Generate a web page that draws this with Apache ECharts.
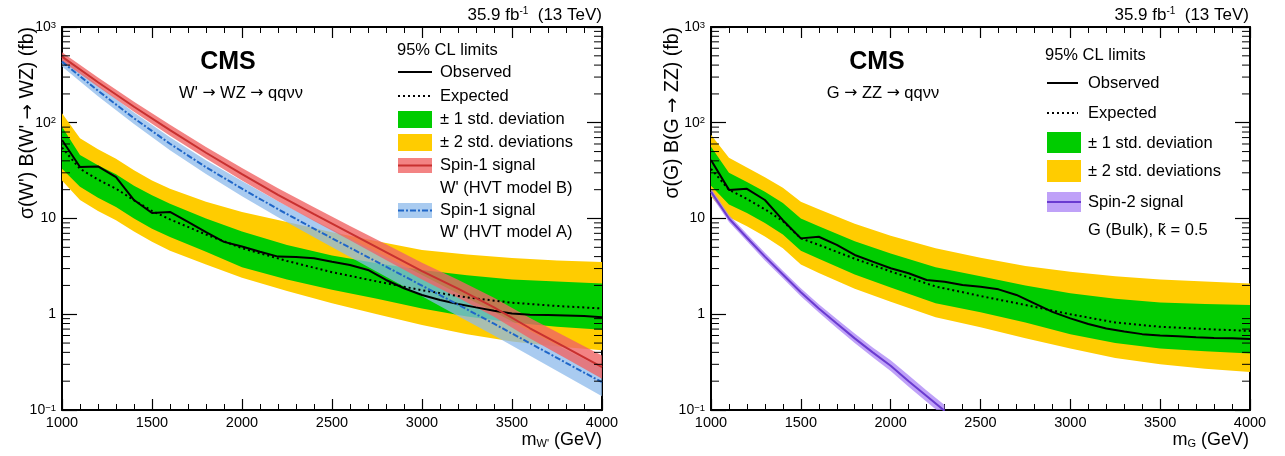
<html>

<head>
    <meta charset="utf-8">
    <title>CMS W' / G limits</title>
    <script src="https://cdn.jsdelivr.net/npm/echarts@6.0.0/dist/echarts.min.js"></script>
    <style>body { margin: 0; background: #fff; }</style>
</head>

<body>
    <div id="main" style="width:1285px;height:456px;"></div>
    <script type="text/javascript">
        // values (fb vs GeV)
        var massObs = [1000, 1100, 1200, 1300, 1400, 1500, 1600, 1700, 1800, 1900, 2000, 2100, 2200, 2300, 2400, 2500,
            2600, 2700, 2800, 2900, 3000, 3100, 3200, 3300, 3400, 3500, 3600, 3700, 3800, 3900, 4000];
        var massBand = [1000, 1100, 1200, 1300, 1400, 1500, 1600, 1800, 2000, 2250, 2500, 2750, 3000, 3250, 3500, 3750, 4000];
        var massSig = [1000, 1200, 1400, 1600, 1800, 2000, 2200, 2400, 2600, 2800, 3000, 3200, 3400, 3600, 3800, 4000];
        var massBulk = [1000, 1100, 1200, 1300, 1400, 1500, 1600, 1700, 1800, 1900, 2000, 2100, 2200, 2300];

        // W' -> WZ
        var wzObserved = [66, 34.5, 35, 27, 15.6, 11.4, 11.7, 9.2, 7.2, 5.7, 5.1, 4.5, 4.0, 3.96, 3.85, 3.54,
            3.27, 2.9, 2.28, 1.87, 1.59, 1.41, 1.28, 1.18, 1.09, 1.02, 0.99, 0.98, 0.97, 0.96, 0.93];
        var wzExpected = [55, 33, 25.5, 20.5, 15.5, 12, 9.8, 6.8, 4.9, 3.6, 2.75, 2.2, 1.78, 1.5, 1.32, 1.22, 1.15];
        var wzPlus2 = [126, 69, 53, 42, 32, 25, 20.5, 15, 11.7, 9.2, 7.2, 5.8, 4.7, 4.2, 3.87, 3.65, 3.52];
        var wzPlus1 = [91, 46, 36, 29, 22, 17.5, 14.3, 10, 7.3, 5.3, 4.1, 3.4, 2.9, 2.55, 2.3, 2.2, 2.1];
        var wzMinus1 = [33, 21.4, 16.5, 13.2, 10, 7.8, 6.4, 4.5, 3.1, 2.3, 1.8, 1.45, 1.15, 0.95, 0.82, 0.74, 0.69];
        var wzMinus2 = [25, 15.6, 12, 9.6, 7.3, 5.7, 4.6, 3.3, 2.4, 1.75, 1.3, 1.0, 0.77, 0.62, 0.52, 0.46, 0.42];
        var hvtB = [490, 265, 147, 83.6, 48.6, 29.0, 17.7, 11.1, 7.03, 4.45, 2.82, 1.85, 1.18, 0.714, 0.448, 0.280];
        var hvtBLow = [441, 237, 130, 73.3, 42.3, 25.0, 15.1, 9.4, 5.91, 3.68, 2.31, 1.49, 0.94, 0.558, 0.345, 0.212];
        var hvtBHigh = [544, 297, 166, 95.3, 55.9, 33.6, 20.7, 13.1, 8.37, 5.38, 3.44, 2.29, 1.49, 0.914, 0.582, 0.37];
        var hvtA = [435, 216, 111.5, 60.4, 34.3, 20.5, 12.5, 7.82, 4.95, 3.14, 1.99, 1.26, 0.796, 0.498, 0.311, 0.195];
        var hvtALow = [386, 189, 97, 51.6, 29.1, 17.1, 10.3, 6.36, 3.96, 2.47, 1.54, 0.96, 0.6, 0.369, 0.227, 0.139];
        var hvtAHigh = [491, 246, 128, 70.7, 40.5, 24.6, 15.1, 9.6, 6.19, 3.99, 2.57, 1.65, 1.06, 0.67, 0.426, 0.273];

        // G -> ZZ
        var zzObserved = [40.8, 19.9, 20.4, 15.6, 9.6, 6.2, 6.45, 5.3, 4.16, 3.54, 3.02, 2.68, 2.28, 2.19, 2.02, 1.94,
            1.82, 1.59, 1.3, 1.06, 0.906, 0.79, 0.71, 0.66, 0.62, 0.6, 0.59, 0.575, 0.565, 0.56, 0.55];
        var zzExpected = [33, 20, 16, 12.5, 9.4, 6.2, 5.3, 3.8, 2.8, 1.95, 1.55, 1.25, 1.0, 0.82, 0.74, 0.70, 0.67];
        var zzPlus2 = [75, 43, 34, 27, 21, 15, 12.5, 8.8, 6.6, 4.9, 3.9, 3.2, 2.78, 2.5, 2.3, 2.2, 2.1];
        var zzPlus1 = [56, 30, 24, 19, 14.5, 10, 8.3, 5.8, 4.3, 3.1, 2.5, 2.0, 1.66, 1.45, 1.33, 1.28, 1.25];
        var zzMinus1 = [22, 14, 11.4, 9, 6.8, 4.6, 3.8, 2.6, 1.9, 1.3, 1.05, 0.82, 0.62, 0.5, 0.44, 0.41, 0.39];
        var zzMinus2 = [17, 10.3, 8.3, 6.5, 4.9, 3.3, 2.7, 1.85, 1.35, 0.93, 0.73, 0.56, 0.44, 0.35, 0.3, 0.27, 0.25];
        var bulk = [19, 10, 6.3, 4.0, 2.6, 1.7, 1.15, 0.8, 0.56, 0.4, 0.29, 0.2, 0.14, 0.098];
        var bulkLow = [17.5, 9.2, 5.8, 3.65, 2.37, 1.54, 1.04, 0.72, 0.5, 0.355, 0.255, 0.175, 0.122, 0.085];
        var bulkHigh = [20.7, 10.9, 6.9, 4.4, 2.85, 1.87, 1.27, 0.89, 0.63, 0.45, 0.33, 0.23, 0.16, 0.113];

        var xTicks = [1000, 1500, 2000, 2500, 3000, 3500, 4000];
        var yDecades = [0.1, 1, 10, 100];
        var yMinorSteps = [2, 3, 4, 5, 6, 7, 8, 9];

        var FONT = 'Liberation Sans, Arial, sans-serif';
        var ARROW_FONT = 'DejaVu Sans, sans-serif';
        var C_YELLOW = '#FFCC00', C_GREEN = '#00CC00';
        var C_RED_BAND = 'rgba(240,100,100,0.8)', C_RED = '#C8302F';
        var C_BLUE_BAND = 'rgba(140,185,235,0.75)', C_BLUE = '#1F66C8';
        var C_PURPLE_BAND = 'rgba(170,130,245,0.75)', C_PURPLE = '#6A3BD0';

        function pairs(xs, ys) {
            return xs.map(function (x, i) { return [x, ys[i]]; });
        }

        function band(xi, yi, xs, lo, hi, fill) {
            return {
                type: 'custom', xAxisIndex: xi, yAxisIndex: yi, silent: true, animation: false,
                data: [[xs[0], hi[0]]],
                renderItem: function (params, api) {
                    var pts = [];
                    for (var i = 0; i < xs.length; i++) pts.push(api.coord([xs[i], hi[i]]));
                    for (var j = xs.length - 1; j >= 0; j--) pts.push(api.coord([xs[j], lo[j]]));
                    var cs = params.coordSys;
                    return {
                        type: 'polygon', shape: { points: pts }, style: { fill: fill },
                        clipPath: { type: 'rect', shape: { x: cs.x, y: cs.y, width: cs.width, height: cs.height } }
                    };
                }
            };
        }

        function line(xi, yi, xs, ys, color, type, width) {
            return {
                type: 'line', xAxisIndex: xi, yAxisIndex: yi, data: pairs(xs, ys),
                symbol: 'none', silent: true, animation: false, clip: true,
                lineStyle: { color: color, width: width || 2, type: type || 'solid' }
            };
        }

        // minor ticks of the log axes (2..9 in every decade), left and right side
        function yMinorTicks(xi, yi) {
            return {
                type: 'custom', xAxisIndex: xi, yAxisIndex: yi, silent: true, animation: false, z: 5,
                data: [[2500, 1]],
                renderItem: function (params, api) {
                    var cs = params.coordSys, kids = [];
                    yDecades.forEach(function (d) {
                        yMinorSteps.forEach(function (k) {
                            var y = api.coord([2500, d * k])[1];
                            kids.push({ type: 'line', shape: { x1: cs.x, y1: y, x2: cs.x + 8, y2: y }, style: { stroke: '#000', lineWidth: 1 } });
                            kids.push({ type: 'line', shape: { x1: cs.x + cs.width, y1: y, x2: cs.x + cs.width - 8, y2: y }, style: { stroke: '#000', lineWidth: 1 } });
                        });
                    });
                    return { type: 'group', children: kids };
                }
            };
        }

        function xAxisDef(grid, pos) {
            return {
                gridIndex: grid, type: 'value', min: 1000, max: 4000, interval: 500, position: pos,
                axisLine: { show: true, onZero: false, lineStyle: { color: '#000', width: 2 } },
                axisTick: { inside: true, length: 11, lineStyle: { color: '#000', width: 1.2 } },
                minorTick: { show: true, splitNumber: 5, length: 6, lineStyle: { color: '#000', width: 1 } },
                axisLabel: {
                    show: pos === 'bottom', color: '#000', fontSize: 14.5, fontFamily: FONT, margin: 5,
                    formatter: function (v) { return String(v); }
                },
                splitLine: { show: false }
            };
        }

        function yLabel(v) {
            var e = Math.round(Math.log10(v));
            if (e === 0) return '{b|1}';
            if (e === 1) return '{b|10}';
            return '{b|10}{s|' + (e < 0 ? '\u2212' + (-e) : e) + '}';
        }

        function yAxisDef(grid, pos) {
            return {
                gridIndex: grid, type: 'log', logBase: 10, min: 0.1, max: 1000, position: pos,
                axisLine: { show: true, onZero: false, lineStyle: { color: '#000', width: 2 } },
                axisTick: { inside: true, length: 15, lineStyle: { color: '#000', width: 1.2 } },
                axisLabel: {
                    show: pos === 'left', margin: 6, formatter: yLabel,
                    rich: {
                        b: { fontSize: 14, fontFamily: FONT, color: '#000' },
                        s: { fontSize: 9.5, fontFamily: FONT, color: '#000', verticalAlign: 'top' }
                    }
                },
                splitLine: { show: false }
            };
        }

        // text with the arrows drawn in DejaVu (Liberation's arrow is tiny)
        function arrowRich(s) {
            return s.split('\u2192').map(function (p) { return p ? '{n|' + p + '}' : ''; }).join('{a|\u2192}');
        }
        function richSet(size) {
            return {
                n: { fontSize: size, fontFamily: FONT, color: '#000' },
                a: { fontSize: size * 0.95, fontFamily: ARROW_FONT, color: '#000' }
            };
        }

        function txt(x, y, text, o) {
            o = o || {};
            return {
                type: 'text', x: x, y: y, rotation: o.rot || 0, z: 20, silent: true,
                style: {
                    text: text, fill: '#000', font: (o.weight || 'normal') + ' ' + (o.size || 16.5) + 'px ' + FONT,
                    align: o.align || 'left', verticalAlign: 'middle', rich: o.rich
                }
            };
        }
        function box(x, y, w, h, fill) {
            return { type: 'rect', z: 20, silent: true, shape: { x: x, y: y, width: w, height: h }, style: { fill: fill } };
        }
        function seg(x1, x2, y, color, dash, width) {
            return {
                type: 'line', z: 21, silent: true, shape: { x1: x1, y1: y, x2: x2, y2: y },
                style: { stroke: color, lineWidth: width || 2, lineDash: dash || null }
            };
        }

        var supRich = {
            n: { fontSize: 17, fontFamily: FONT, color: '#000' },
            s: { fontSize: 10, fontFamily: FONT, color: '#000', verticalAlign: 'top' }
        };
        var subRich = {
            n: { fontSize: 18, fontFamily: FONT, color: '#000' },
            d: { fontSize: 11, fontFamily: FONT, color: '#000', verticalAlign: 'bottom' }
        };

        var graphics = [
            // left panel texts
            txt(602, 15, '{n|35.9 fb}{s|-1}{n|  (13 TeV)}', { align: 'right', rich: supRich }),
            txt(228, 62, 'CMS', { size: 25, weight: 'bold', align: 'center' }),
            txt(241, 93, arrowRich("W' \u2192 WZ \u2192 qq\u03BD\u03BD"), { align: 'center', rich: richSet(16.5) }),
            txt(28, 27, arrowRich("\u03C3(W') B(W' \u2192 WZ) (fb)"), { align: 'right', rot: Math.PI / 2, rich: richSet(19.5) }),
            txt(602, 440, "{n|m}{d|W'}{n| (GeV)}", { align: 'right', rich: subRich }),
            // left legend
            txt(397, 50, '95% CL limits'),
            seg(398, 432, 72, '#000'), txt(440, 72, 'Observed'),
            seg(398, 432, 96, '#000', [2, 3]), txt(440, 96, 'Expected'),
            box(398, 111, 34, 17, C_GREEN), txt(440, 119, '\u00B1 1 std. deviation'),
            box(398, 134, 34, 17, C_YELLOW), txt(440, 142, '\u00B1 2 std. deviations'),
            box(398, 158, 34, 15, C_RED_BAND), seg(398, 432, 165.5, C_RED), txt(440, 165, 'Spin-1 signal'),
            txt(440, 188, "W' (HVT model B)"),
            box(398, 203, 34, 15, C_BLUE_BAND), seg(398, 432, 210.5, C_BLUE, [6, 2, 2, 2]), txt(440, 210, 'Spin-1 signal'),
            txt(440, 232, "W' (HVT model A)"),
            // right panel texts
            txt(1249, 15, '{n|35.9 fb}{s|-1}{n|  (13 TeV)}', { align: 'right', rich: supRich }),
            txt(877, 62, 'CMS', { size: 25, weight: 'bold', align: 'center' }),
            txt(883, 93, arrowRich('G \u2192 ZZ \u2192 qq\u03BD\u03BD'), { align: 'center', rich: richSet(16.5) }),
            txt(673, 27, arrowRich('\u03C3(G) B(G \u2192 ZZ) (fb)'), { align: 'right', rot: Math.PI / 2, rich: richSet(19.5) }),
            txt(1249, 440, '{n|m}{d|G}{n| (GeV)}', { align: 'right', rich: subRich }),
            // right legend
            txt(1045, 55, '95% CL limits'),
            seg(1047, 1078, 83, '#000'), txt(1088, 83, 'Observed'),
            seg(1047, 1078, 113, '#000', [2, 3]), txt(1088, 113, 'Expected'),
            box(1047, 132, 34, 21, C_GREEN), txt(1088, 143, '\u00B1 1 std. deviation'),
            box(1047, 160, 34, 22, C_YELLOW), txt(1088, 171, '\u00B1 2 std. deviations'),
            box(1047, 192, 34, 20, C_PURPLE_BAND), seg(1047, 1081, 202, C_PURPLE), txt(1088, 202, 'Spin-2 signal'),
            txt(1088, 230, 'G (Bulk), k\u0303 = 0.5')
        ];

        var myChart = echarts.init(document.getElementById('main'));
        var option = {
            backgroundColor: '#fff',
            animation: false,
            grid: [
                { left: 62, top: 27, width: 540, height: 383 },
                { left: 711, top: 27, width: 539, height: 383 }
            ],
            xAxis: [xAxisDef(0, 'bottom'), xAxisDef(0, 'top'), xAxisDef(1, 'bottom'), xAxisDef(1, 'top')],
            yAxis: [yAxisDef(0, 'left'), yAxisDef(0, 'right'), yAxisDef(1, 'left'), yAxisDef(1, 'right')],
            graphic: graphics,
            series: [
                band(0, 0, massBand, wzMinus2, wzPlus2, C_YELLOW),
                band(0, 0, massBand, wzMinus1, wzPlus1, C_GREEN),
                line(0, 0, massBand, wzExpected, '#000', [2, 3]),
                line(0, 0, massObs, wzObserved, '#000'),
                band(0, 0, massSig, hvtALow, hvtAHigh, C_BLUE_BAND),
                band(0, 0, massSig, hvtBLow, hvtBHigh, C_RED_BAND),
                line(0, 0, massSig, hvtA, C_BLUE, [6, 2, 2, 2]),
                line(0, 0, massSig, hvtB, C_RED),
                yMinorTicks(0, 0),

                band(2, 2, massBand, zzMinus2, zzPlus2, C_YELLOW),
                band(2, 2, massBand, zzMinus1, zzPlus1, C_GREEN),
                line(2, 2, massBand, zzExpected, '#000', [2, 3]),
                line(2, 2, massObs, zzObserved, '#000'),
                band(2, 2, massBulk, bulkLow, bulkHigh, C_PURPLE_BAND),
                line(2, 2, massBulk, bulk, C_PURPLE),
                yMinorTicks(2, 2)
            ]
        };
        option && myChart.setOption(option);
    </script>
</body>

</html>
